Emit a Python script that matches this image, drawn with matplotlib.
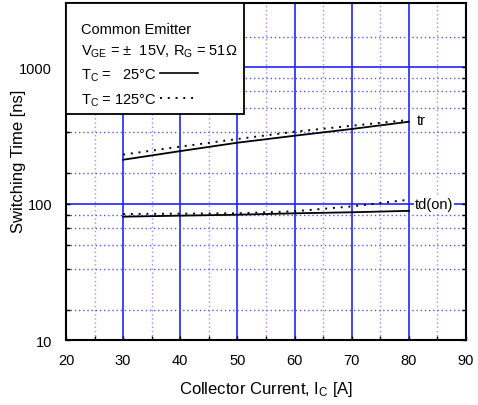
import matplotlib
matplotlib.use("Agg")
import matplotlib.pyplot as plt
from matplotlib.patches import Rectangle
from matplotlib.lines import Line2D

plt.rcParams['font.family'] = ['Liberation Sans', 'DejaVu Sans']
plt.rcParams['mathtext.fontset'] = 'custom'
plt.rcParams['mathtext.rm'] = 'Liberation Sans'
plt.rcParams['mathtext.it'] = 'Liberation Sans'

# data
ic = [30, 40, 50, 60, 70, 80]
tr_25 = [210, 243, 280, 315, 353, 399]
tr_125 = [229, 262, 298, 337, 373, 411]
tdon_25 = [80.3, 81.7, 83, 85, 86.5, 88.6]
tdon_125 = [84, 84.5, 85, 88, 95.5, 107]

x_major = [20, 30, 40, 50, 60, 70, 80, 90]
x_minor = [25, 35, 45, 55, 65, 75, 85]
y_major = [10, 100, 1000]
y_minor = [16.7, 33.3, 50, 66.7, 83.3, 166.7, 333, 500, 667, 833, 1667]

fig = plt.figure(figsize=(4.78, 4.06), dpi=100)
ax = fig.add_axes([0.138, 0.160, 0.837, 0.830])
ax.set_yscale('log')
ax.set_xlim(20, 90)
ax.set_ylim(10, 2960)

# grid
for x in x_major[1:-1]:
    ax.axvline(x, color='#2222ff', lw=1.2, zorder=1)
for x in x_minor:
    ax.axvline(x, color='#9090ff', lw=1.0, ls=(0, (1, 2)), zorder=1)
for y in y_major[1:]:
    ax.axhline(y, color='#2222ff', lw=1.2, zorder=1)
for y in y_minor:
    ax.axhline(y, color='#5555ee', lw=1.0, ls=(0, (1, 2)), zorder=1)

dots = (0, (1, 3))
ax.plot(ic, tr_25, color='black', lw=1.3, zorder=3)
ax.plot(ic, tr_125, color='black', lw=1.4, ls=dots, zorder=3)
ax.plot(ic, tdon_25, color='black', lw=1.3, zorder=3)
ax.plot(ic, tdon_125, color='black', lw=1.4, ls=dots, zorder=3)

ax.text(81.4, 410, 'tr', fontsize=10.5, va='center', ha='left', zorder=4)
ax.text(81.0, 100, 'td(on)', fontsize=10.5, va='center', ha='left', zorder=4,
        bbox=dict(facecolor='white', edgecolor='none', pad=0.5))

ax.set_xticks(x_major)
ax.set_xticks(x_minor, minor=True)
ax.set_yticks(y_major)
ax.set_yticks(y_minor, minor=True)
ax.set_yticklabels(['10', '100', '1000'])
ax.tick_params(which='both', direction='in', length=3, width=1,
               top=False, right=True, labelsize=10.5)
ax.tick_params(axis='x', pad=9)
ax.tick_params(axis='y', pad=10)
ax.tick_params(axis='y', which='minor', labelleft=False)
for s in ax.spines.values():
    s.set_linewidth(1.5)

ax.set_xlabel('Collector Current, I$_{\\rm C}$ [A]', fontsize=12)
ax.set_ylabel('Switching Time [ns]', fontsize=12)
ax.xaxis.set_label_coords(0.5, -0.115)
ax.yaxis.set_label_coords(-0.099, 0.534)

# legend box
ax.add_patch(Rectangle((0, 0.67), 0.445, 0.33, transform=ax.transAxes,
                       facecolor='white', edgecolor='black', lw=1.3, zorder=5))
tx = 0.0375
fs = 10.5
ax.text(tx, 0.923, 'Common Emitter', transform=ax.transAxes, fontsize=fs, zorder=6, va='center')
ax.text(tx, 0.858, 'V$_{\\rm GE}$ = $\\pm$  15V, R$_{\\rm G}$ = 51\u03a9',
        transform=ax.transAxes, fontsize=fs, zorder=6, va='center')
ax.text(tx, 0.786, 'T$_{\\rm C}$ =   25\u00b0C', transform=ax.transAxes, fontsize=fs, zorder=6, va='center')
ax.text(tx, 0.714, 'T$_{\\rm C}$ = 125\u00b0C', transform=ax.transAxes, fontsize=fs, zorder=6, va='center')
ax.add_line(Line2D([0.235, 0.33], [0.792, 0.792], transform=ax.transAxes,
                   color='black', lw=1.2, zorder=6))
ax.add_line(Line2D([0.235, 0.325], [0.718, 0.718], transform=ax.transAxes,
                   color='black', lw=1.4, ls=dots, zorder=6))

fig.savefig('out.png', dpi=100)
